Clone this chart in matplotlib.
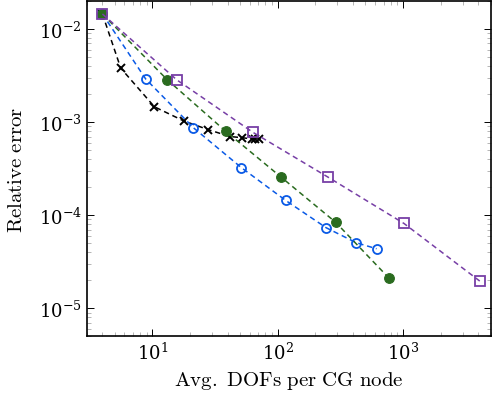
import numpy as np
import matplotlib
matplotlib.use('Agg')
import matplotlib.pyplot as plt

plt.rcParams['mathtext.fontset'] = 'cm'
plt.rcParams['font.family'] = 'serif'
plt.rcParams['font.serif'] = ['DejaVu Serif']

#--------------------------------------------------------------------------------------------
# Data
x_black = [4, 5.6, 10.4, 17.8, 27.9, 41.7, 52, 62, 66.5, 71.5]
y_black = [0.0145, 0.0038, 0.00146, 0.00103, 0.00083, 0.00070, 0.00068, 0.00066, 0.00066, 0.00066]

x_blue = [4, 8.85, 21.3, 51.4, 116, 244, 424, 616]
y_blue = [0.0145, 0.00291, 0.000869, 0.000324, 0.000144, 7.33e-5, 5.06e-5, 4.36e-5]

x_green = [4, 13.2, 38.7, 106, 290, 768]
y_green = [0.0145, 0.00284, 0.000793, 0.000258, 8.41e-5, 2.13e-5]

x_purple = [4, 15.7, 63.1, 254, 1019, 4100]
y_purple = [0.0145, 0.00284, 0.000781, 0.000255, 8.15e-5, 1.96e-5]

#--------------------------------------------------------------------------------------------
fig = plt.figure(figsize=(4.93, 4.02), dpi=100)
ax = fig.add_axes([0.176, 0.161, 0.819, 0.834])

dash = (0, (3.5, 2.5))
ax.plot(x_black, y_black, color='black', linestyle=dash, linewidth=1.1,
        marker='x', markersize=6, markeredgewidth=1.4)
ax.plot(x_blue, y_blue, color='#0a5ae6', linestyle=dash, linewidth=1.1,
        marker='o', markersize=6.5, markerfacecolor='none', markeredgewidth=1.3)
ax.plot(x_green, y_green, color='#2a6b1f', linestyle=dash, linewidth=1.1,
        marker='o', markersize=7, markeredgewidth=0.8)
ax.plot(x_purple, y_purple, color='#773fa6', linestyle=dash, linewidth=1.1,
        marker='s', markersize=6.5, markerfacecolor='none', markeredgewidth=1.3)

ax.set_xscale('log')
ax.set_yscale('log')
ax.set_xlim(3, 5000)
ax.set_ylim(5e-6, 2e-2)

ax.tick_params(which='both', direction='in', top=True, right=True, labelsize=13)
ax.tick_params(which='major', length=5, width=0.7)
ax.tick_params(which='minor', length=3, width=0.5, color='#999999')
for s in ax.spines.values():
    s.set_linewidth(1.2)

ax.set_xlabel(r'$\mathrm{Avg.\ DOFs\ per\ CG\ node}$', fontsize=15, labelpad=5)
ax.set_ylabel(r'$\mathrm{Relative\ error}$', fontsize=15, labelpad=9)

plt.savefig('out.png', dpi=100)
